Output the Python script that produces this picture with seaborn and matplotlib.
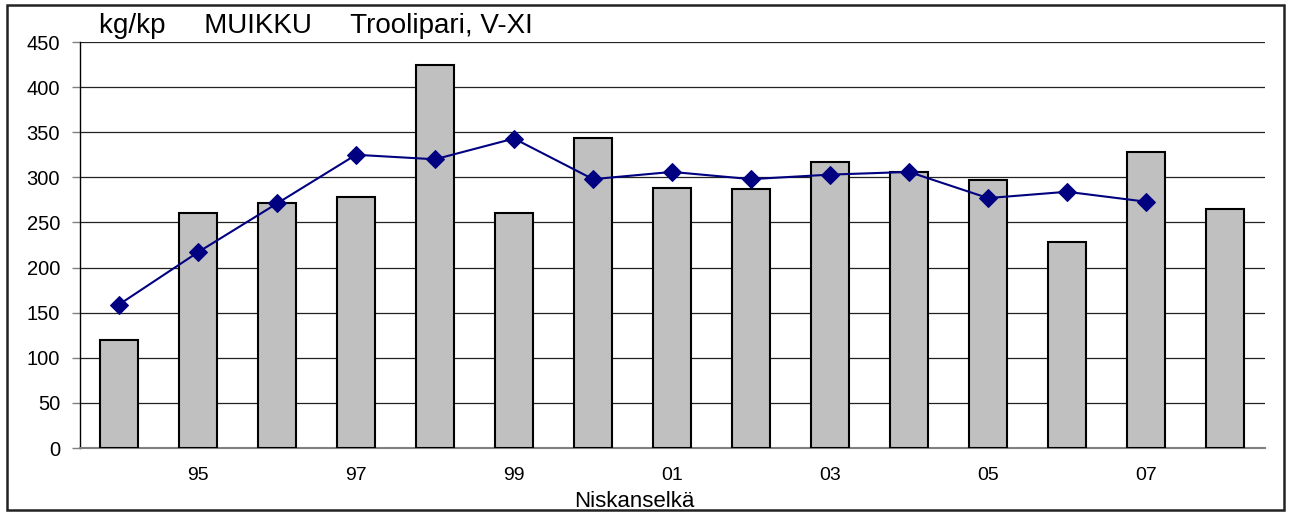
import matplotlib
matplotlib.use("Agg")
import matplotlib.pyplot as plt
import seaborn as sns
import numpy as np
from matplotlib.patches import Rectangle

# data
years = ["94", "95", "96", "97", "98", "99", "00", "01", "02", "03", "04", "05", "06", "07", "08"]
bar_values = [120, 260, 271, 278, 424, 260, 344, 288, 287, 317, 306, 297, 228, 328, 265]
line_values = [159, 217, 271, 325, 320, 343, 298, 306, 298, 303, 306, 277, 284, 273]
tick_labels = ["95", "97", "99", "01", "03", "05", "07"]

sns.set_theme(style="white")
plt.rcParams["font.family"] = ["Liberation Sans", "DejaVu Sans"]
plt.rcParams["text.color"] = "black"

W, H = 1291, 512
fig = plt.figure(figsize=(W / 100, H / 100), dpi=100)
ax = fig.add_axes([79.5 / W, 1 - 448 / H, (1264.5 - 79.5) / W, (448 - 42) / H])

sns.barplot(x=years, y=bar_values, color="#C0C0C0", edgecolor="black",
            linewidth=1.5, width=0.49, saturation=1, ax=ax, zorder=3)

line_x = np.arange(len(line_values))
sns.lineplot(x=line_x, y=line_values, color="#000080", marker="D",
             markersize=9, markeredgecolor="#000080", linewidth=1.5,
             ax=ax, zorder=4)

ax.set_ylim(0, 450)
ax.set_yticks(range(0, 451, 50))
ax.set_xlim(-0.5, 14.5)
ax.set_xticks([years.index(t) for t in tick_labels])
ax.set_xticklabels(tick_labels)

ax.yaxis.grid(True, color="#222222", linewidth=0.9, zorder=0)
ax.xaxis.grid(False)
ax.set_axisbelow(True)

for s in ["top", "right"]:
    ax.spines[s].set_visible(False)
ax.spines["left"].set_color("black")
ax.spines["left"].set_linewidth(1.0)
ax.spines["bottom"].set_color("#808080")
ax.spines["bottom"].set_linewidth(1.5)

ax.tick_params(axis="y", which="both", left=True, length=6, width=1,
               color="#808080", labelcolor="black", labelsize=14.5, pad=8,
               direction="out")
ax.tick_params(axis="x", bottom=False, labelcolor="black", labelsize=14, pad=8)
ax.set_xlabel("")
ax.set_ylabel("")

fig.text(99 / W, 1 - 26 / H, "kg/kp     MUIKKU     Troolipari, V-XI",
         fontsize=20, va="center", ha="left", color="black")
fig.text(634 / W, 1 - 507 / H, "Niskanselkä", fontsize=16,
         va="baseline", ha="center", color="black")

fig.patches.append(Rectangle((7 / W, 1 - 510 / H), (1284 - 7) / W, (510 - 5) / H,
                             transform=fig.transFigure, fill=False,
                             edgecolor="#222222", linewidth=1.8))

fig.savefig("out.png", dpi=100)
